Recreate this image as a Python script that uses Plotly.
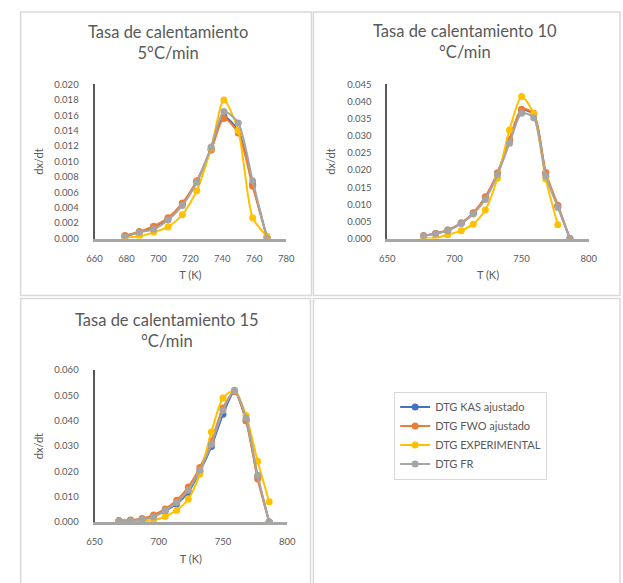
import plotly.graph_objects as go

W, H = 623, 583

# ---------------- data ----------------
series_names = ["DTG KAS ajustado", "DTG FWO ajustado", "DTG EXPERIMENTAL", "DTG FR"]
series_colors = ["#4472C4", "#ED7D31", "#FFC000", "#A5A5A5"]

# Panel 1: 5 °C/min
t5 = [679, 688, 697, 706, 715, 724, 733, 741, 750, 759, 768]
kas5 = [0.0003, 0.0008, 0.0015, 0.0026, 0.0045, 0.0074, 0.0116, 0.0158, 0.0140, 0.0070, 0.0001]
fwo5 = [0.0004, 0.0009, 0.0016, 0.0027, 0.0046, 0.0075, 0.0115, 0.0156, 0.0137, 0.0068, 0.0001]
exp5 = [0.0001, 0.0003, 0.0008, 0.0015, 0.0031, 0.0062, 0.0118, 0.0180, 0.0140, 0.0027, 0.0003]
fr5 = [0.0002, 0.0008, 0.0012, 0.0024, 0.0043, 0.0073, 0.0119, 0.0165, 0.0150, 0.0075, 0.0000]

# Panel 2: 10 °C/min
t10 = [677, 686, 695, 705, 714, 723, 732, 741, 750, 759, 768, 777, 786]
kas10 = [0.0008, 0.0015, 0.0024, 0.0045, 0.0074, 0.0120, 0.0190, 0.0287, 0.0375, 0.0363, 0.0190, 0.0095, 0.0]
fwo10 = [0.0008, 0.0015, 0.0025, 0.0045, 0.0075, 0.0122, 0.0192, 0.0290, 0.0378, 0.0366, 0.0193, 0.0097, 0.0]
exp10 = [0.0000, 0.0002, 0.0011, 0.0023, 0.0042, 0.0083, 0.0176, 0.0317, 0.0415, 0.0365, 0.0174, 0.0040]
fr10 = [0.0007, 0.0014, 0.0023, 0.0044, 0.0072, 0.0114, 0.0186, 0.0278, 0.0366, 0.0353, 0.0183, 0.0091, 0.0]

# Panel 3: 15 °C/min
t15 = [669, 678, 687, 696, 705, 714, 723, 732, 741, 750, 759, 768, 777, 786]
kas15 = [0.0004, 0.0006, 0.0011, 0.0022, 0.0044, 0.0072, 0.0118, 0.0200, 0.0298, 0.0425, 0.0515, 0.0400, 0.0180, 0.0]
fwo15 = [0.0006, 0.0008, 0.0014, 0.0028, 0.0052, 0.0086, 0.0138, 0.0215, 0.0320, 0.0450, 0.0515, 0.0400, 0.0170, 0.0]
exp15 = [0.0000, 0.0001, 0.0003, 0.0008, 0.0022, 0.0047, 0.0090, 0.0190, 0.0355, 0.0490, 0.0520, 0.0420, 0.0240, 0.0080]
fr15 = [0.0004, 0.0004, 0.0010, 0.0020, 0.0046, 0.0077, 0.0126, 0.0204, 0.0307, 0.0440, 0.0520, 0.0410, 0.0185, 0.0]

titles = ["Tasa de calentamiento<br>5°C/min",
          "Tasa de calentamiento 10<br>°C/min",
          "Tasa de calentamiento 15<br>°C/min"]
x_title = "T (K)"
y_title = "dx/dt"

panels = [
    dict(t=t5, ys=[kas5, fwo5, exp5, fr5], xr=[660, 780], xd=20, yr=[0, 0.020], yd=0.002,
         px=(89, 286), py=(237, 80), tpos=(164, 37)),
    dict(t=t10, ys=[kas10, fwo10, exp10, fr10], xr=[650, 800], xd=50, yr=[0, 0.045], yd=0.005,
         px=(390, 597), py=(237, 80), tpos=(470, 36)),
    dict(t=t15, ys=[kas15, fwo15, exp15, fr15], xr=[650, 800], xd=50, yr=[0, 0.060], yd=0.010,
         px=(89, 287), py=(526, 371), tpos=(163, 331)),
]

FONT = "Lato"
TXT = "#595959"

fig = go.Figure()
layout = dict(width=W, height=H, margin=dict(l=0, r=0, t=0, b=0),
              paper_bgcolor="white", plot_bgcolor="white",
              font=dict(family=FONT, color=TXT), showlegend=True)

annotations = []
for i, p in enumerate(panels):
    n = "" if i == 0 else str(i + 1)
    for j, (name, col) in enumerate(zip(series_names, series_colors)):
        fig.add_trace(go.Scatter(
            x=p["t"][:len(p["ys"][j])], y=p["ys"][j], name=name,
            mode="lines+markers", line=dict(color=col, width=2, shape="spline", smoothing=0.7),
            marker=dict(color=col, size=7), xaxis="x" + n, yaxis="y" + n,
            showlegend=(i == 0), legendrank=j))
    layout["xaxis" + n] = dict(
        domain=[p["px"][0] / W, p["px"][1] / W], range=p["xr"], dtick=p["xd"], anchor="y" + n,
        showgrid=False, zeroline=False, showline=True, linecolor="#A6A6A6", linewidth=3,
        ticks="outside", ticklen=9, tickcolor="rgba(0,0,0,0)",
        tickfont=dict(size=9.5, color=TXT), fixedrange=True,
        title=dict(text=x_title, font=dict(size=11, color=TXT), standoff=9))
    layout["yaxis" + n] = dict(
        domain=[1 - p["py"][0] / H, 1 - p["py"][1] / H], range=p["yr"], dtick=p["yd"],
        anchor="x" + n, tickformat=".3f",
        showgrid=False, zeroline=False, showline=True, linecolor="#595959", linewidth=2,
        ticks="outside", ticklen=12, tickcolor="rgba(0,0,0,0)",
        tickfont=dict(size=9.5, color=TXT), fixedrange=True,
        title=dict(text=y_title, font=dict(size=11, color=TXT), standoff=9))
    annotations.append(dict(text=titles[i], x=p["tpos"][0] / W, y=1 - p["tpos"][1] / H,
                            xref="paper", yref="paper", showarrow=False,
                            xanchor="center", yanchor="middle",
                            font=dict(size=16.5, color=TXT, family=FONT), align="center"))

layout["annotations"] = annotations
border = "#D9D9D9"
layout["shapes"] = [
    dict(type="rect", xref="paper", yref="paper", x0=13 / W, x1=312 / W, y0=1 - 295 / H, y1=1 - 6 / H,
         line=dict(color=border, width=1.5)),
    dict(type="rect", xref="paper", yref="paper", x0=314 / W, x1=1.01, y0=1 - 295 / H, y1=1 - 6 / H,
         line=dict(color=border, width=1.5)),
    dict(type="rect", xref="paper", yref="paper", x0=13 / W, x1=311 / W, y0=-0.01, y1=1 - 298 / H,
         line=dict(color=border, width=1.5)),
    dict(type="rect", xref="paper", yref="paper", x0=314 / W, x1=1.01, y0=-0.01, y1=1 - 298 / H,
         line=dict(color=border, width=1.5)),
]
layout["legend"] = dict(x=397 / W, y=1 - 393 / H, xanchor="left", yanchor="top",
                        bordercolor=border, borderwidth=1, bgcolor="white",
                        font=dict(size=11, color=TXT, family=FONT), itemwidth=30,
                        tracegroupgap=0)
fig.update_layout(**layout)
fig.write_html("out.html")
